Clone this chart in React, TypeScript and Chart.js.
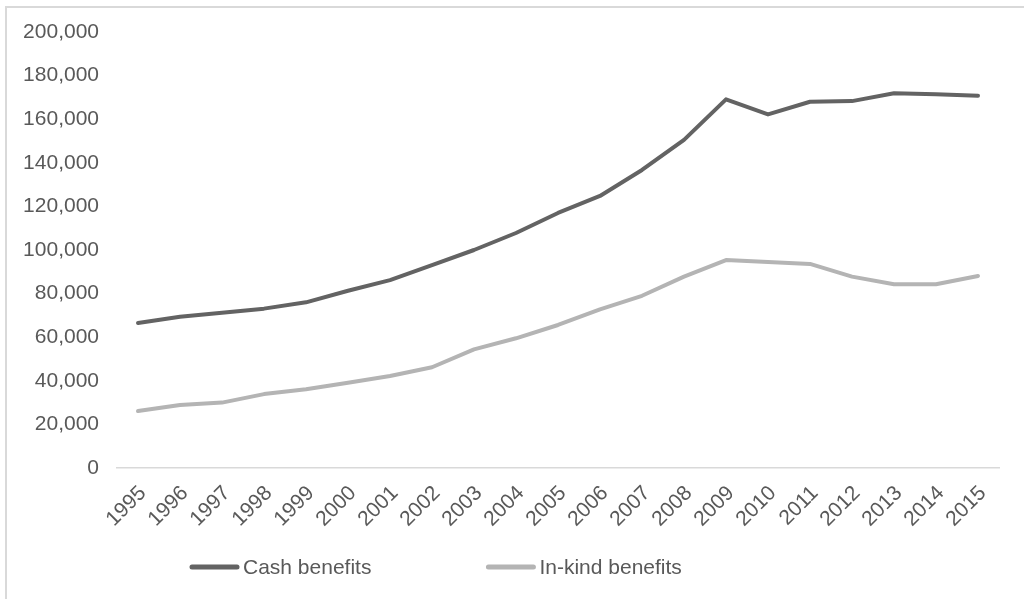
import React, { useEffect, useRef } from "react";
import { Chart, registerables } from "chart.js";

Chart.register(...registerables);

const years: string[] = [
  "1995", "1996", "1997", "1998", "1999", "2000", "2001", "2002", "2003", "2004",
  "2005", "2006", "2007", "2008", "2009", "2010", "2011", "2012", "2013", "2014", "2015",
];

const cashBenefits: number[] = [
  66500, 69400, 71200, 73100, 76000, 81300, 86200, 93100, 100000, 107800,
  117000, 124800, 136700, 150500, 169100, 162200, 168000, 168300, 171900, 171400, 170800,
];

const inKindBenefits: number[] = [
  26100, 28900, 30000, 33900, 36100, 39100, 42200, 46200, 54400, 59500,
  65600, 72800, 79000, 87800, 95400, 94500, 93600, 87800, 84300, 84300, 88100,
];

const seriesNames: string[] = ["Cash benefits", "In-kind benefits"];
const seriesColors: string[] = ["#636363", "#b4b4b4"];

const yMin = 0;
const yMax = 200000;
const yStep = 20000;

const FONT = "'Liberation Sans', Arial, Helvetica, sans-serif";
const TEXT_COLOR = "#595959";

const framePlugin = {
  id: "frame",
  beforeDraw(chart: any) {
    const ctx = chart.ctx;
    ctx.save();
    ctx.fillStyle = "#ffffff";
    ctx.fillRect(0, 0, chart.width, chart.height);
    ctx.strokeStyle = "#d9d9d9";
    ctx.lineWidth = 2;
    ctx.strokeRect(6, 7, chart.width + 50, chart.height + 50);
    ctx.restore();
  },
};

const legendPlugin = {
  id: "customLegend",
  afterDraw(chart: any) {
    const ctx = chart.ctx;
    ctx.save();
    ctx.font = `21px ${FONT}`;
    ctx.textBaseline = "middle";
    ctx.textAlign = "left";
    let x = 190;
    const y = 567;
    chart.data.datasets.forEach((ds: any) => {
      ctx.strokeStyle = ds.borderColor;
      ctx.lineWidth = 5;
      ctx.lineCap = "round";
      ctx.beginPath();
      ctx.moveTo(x + 2, y);
      ctx.lineTo(x + 47, y);
      ctx.stroke();
      ctx.fillStyle = TEXT_COLOR;
      ctx.fillText(ds.label, x + 53, y + 1);
      x = x + 53 + ctx.measureText(ds.label).width + 115;
    });
    ctx.restore();
  },
};

export default function App() {
  const canvasRef = useRef<HTMLCanvasElement | null>(null);

  useEffect(() => {
    if (!canvasRef.current) return;
    const chart = new Chart(canvasRef.current, {
      type: "line",
      data: {
        labels: years,
        datasets: [
          {
            label: seriesNames[0],
            data: cashBenefits,
            borderColor: seriesColors[0],
            backgroundColor: seriesColors[0],
            borderWidth: 4,
            pointRadius: 0,
            tension: 0,
            borderCapStyle: "round",
            borderJoinStyle: "round",
            fill: false,
          },
          {
            label: seriesNames[1],
            data: inKindBenefits,
            borderColor: seriesColors[1],
            backgroundColor: seriesColors[1],
            borderWidth: 4,
            pointRadius: 0,
            tension: 0,
            borderCapStyle: "round",
            borderJoinStyle: "round",
            fill: false,
          },
        ],
      },
      options: {
        animation: false,
        responsive: false,
        devicePixelRatio: 1,
        layout: { padding: { left: 0, right: 25, top: 32, bottom: 0 } },
        plugins: {
          legend: { display: false },
          tooltip: { enabled: false },
        },
        scales: {
          x: {
            offset: true,
            grid: { display: false, drawTicks: false },
            border: { display: true, color: "#d9d9d9", width: 1.5 },
            ticks: {
              autoSkip: false,
              minRotation: 45,
              maxRotation: 45,
              padding: 13,
              labelOffset: 5,
              color: TEXT_COLOR,
              font: { family: FONT, size: 21 },
            },
            afterFit(scale: any) {
              scale.height = 131;
            },
          },
          y: {
            min: yMin,
            max: yMax,
            grid: { display: false, drawTicks: false },
            border: { display: false },
            ticks: {
              stepSize: yStep,
              padding: 18,
              color: TEXT_COLOR,
              font: { family: FONT, size: 21 },
              callback: (v: any) => Number(v).toLocaleString("en-US"),
            },
            afterFit(scale: any) {
              scale.width = 117;
            },
          },
        },
      },
      plugins: [framePlugin, legendPlugin],
    });
    return () => chart.destroy();
  }, []);

  return (
    <div style={{ position: "fixed", left: 0, top: 0, width: 1024, height: 599, overflow: "hidden" }}>
      <canvas ref={canvasRef} width={1024} height={599} style={{ display: "block" }} />
    </div>
  );
}
